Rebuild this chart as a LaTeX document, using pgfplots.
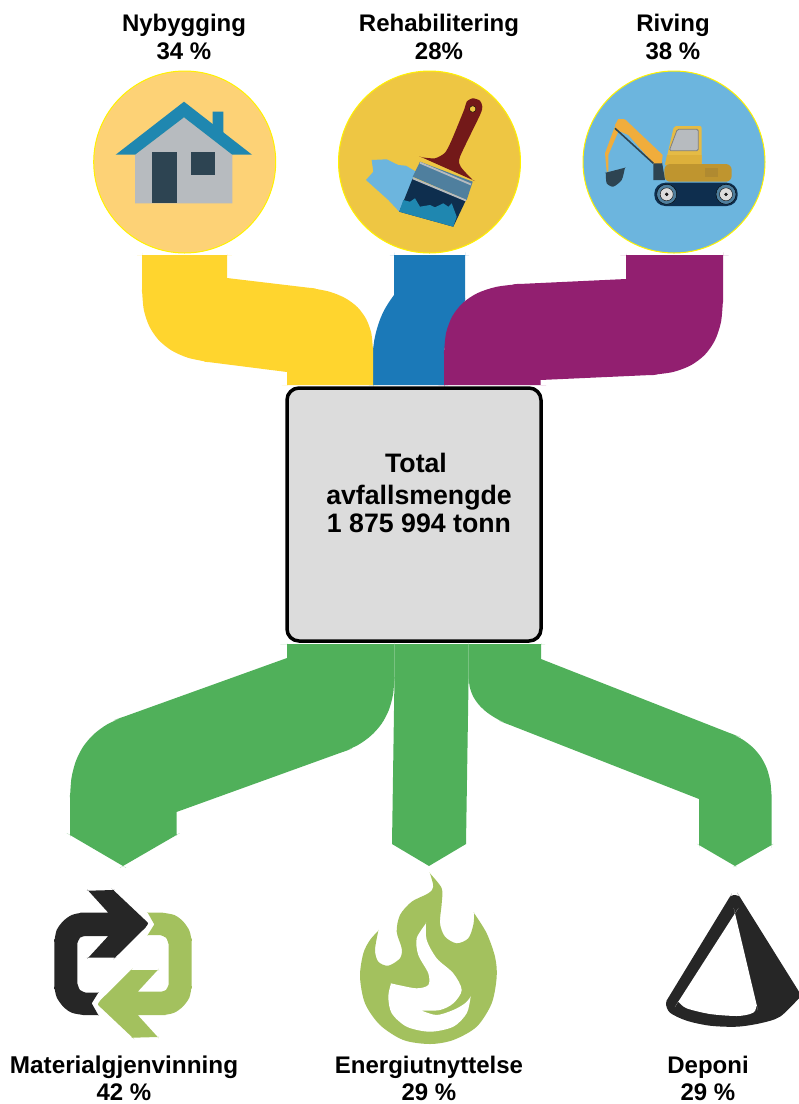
\documentclass[border=0pt]{standalone}
\usepackage{pgfplots}
\pgfplotsset{compat=1.18}
\usepackage{fontspec}
\setmainfont{Liberation Sans}
\definecolor{cYel}{HTML}{FFD52E}
\definecolor{cBlu}{HTML}{1B79B8}
\definecolor{cPur}{HTML}{921F70}
\definecolor{cGrn}{HTML}{50B05A}
\definecolor{cBox}{HTML}{DCDCDC}
\definecolor{cLime}{HTML}{A3C15E}
\definecolor{cDark}{HTML}{262626}
\definecolor{cC1}{HTML}{FDD276}
\definecolor{cC2}{HTML}{EEC643}
\definecolor{cC3}{HTML}{6CB5DE}
\definecolor{cRoof}{HTML}{1F87B0}
\definecolor{cWall}{HTML}{B7BBBF}
\definecolor{cDoor}{HTML}{2D4452}
\definecolor{cHandle}{HTML}{731919}
\definecolor{cSteel}{HTML}{4F7F9E}
\definecolor{cNavy}{HTML}{0E2E4E}
\definecolor{cArm}{HTML}{F0AD3C}
\definecolor{cCab}{HTML}{E5BB45}
\definecolor{cCabL}{HTML}{DDB03B}
\definecolor{cBody}{HTML}{BF952F}
\definecolor{cBodyD}{HTML}{B08A30}
\newcommand{\lab}[4]{\node[anchor=base,inner sep=0pt,font=\fontsize{#1}{#1}\selectfont\bfseries] at (axis cs:#2,#3) {#4};}
\begin{document}
\begin{tikzpicture}
\path[use as bounding box] (0,0) rectangle (799pt,1104pt);
\begin{axis}[at={(0,0)},anchor=south west,x=1pt,y=1pt,y dir=reverse,xmin=0,xmax=799,ymin=0,ymax=1104,hide axis,clip mode=individual]
% streams in
\addplot[fill=cBlu,draw=none,smooth] coordinates {(394,255)(394,255)(394,255)(465,255)(465,255)(465,255)(465,300)(465,300)(465,300)(459,323)(447,340)(444,352)(444,352)(444,352)(444,385)(444,385)(444,385)(373,385)(373,385)(373,385)(373,350)(373,350)(374.4,339.5)(376.7,329.7)(379.75,320.25)(383.6,311.3)(388.5,302.9)(394,295)(394,295)(394,295)(394,255)(394,255)(394,255)} --cycle;
\addplot[fill=cYel,draw=none,smooth] coordinates {(142,255)(142,255)(142,255)(227,255)(227,255)(227,255)(227,278)(227,278)(227,278)(311,288)(311,288)(329.9,291.8)(345.4,298.2)(357.5,307.2)(366.1,318.9)(371.3,333.1)(373,350)(373,350)(373,385)(373,385)(373,385)(287,385)(287,385)(287,385)(287,372)(287,372)(287,372)(208,362)(208,362)(187.8,357.7)(171.3,350.3)(158.5,339.8)(149.3,326.3)(143.8,309.7)(142,290)(142,290)(142,255)(142,255)(142,255)} --cycle;
\addplot[fill=cPur,draw=none,smooth] coordinates {(626,255)(626,255)(626,255)(723,255)(723,255)(723,255)(723,300)(723,300)(721,322)(715,340.2)(705,354.6)(691,365.2)(673,372)(651,375)(651,375)(540.5,380)(540.5,380)(540.5,380)(540.5,385)(540.5,385)(540.5,385)(444,385)(444,385)(444,385)(444,353)(444,353)(446.1,332.9)(452.3,316.3)(462.75,303)(477.3,293.2)(496.1,286.9)(519,284)(519,284)(626,279)(626,279)(626,279)(626,255)(626,255)(626,255)} --cycle;
% streams out
\addplot[fill=cGrn,draw=none,smooth] coordinates {(287,644)(287,644)(287,644)(394.5,644)(394.5,644)(394.5,644)(394.5,677)(394.5,677)(393,694.7)(388.7,710.4)(381.5,723.9)(371.4,735.3)(358.5,744.7)(342.6,752)(342.6,752)(176.5,812)(176.5,812)(176.5,812)(176.5,835)(176.5,835)(176.5,835)(123,866)(123,866)(123,866)(70,835)(70,835)(70,835)(70,797)(70,797)(71.5,777.8)(75.9,761)(83.25,746.5)(93.6,734.4)(106.8,724.6)(123,717)(123,717)(287,658)(287,658)(287,658)(287,644)(287,644)(287,644)} --cycle;
\addplot[fill=cGrn,draw=none] coordinates {(394.5,644)(468.6,644)(468.6,677)(466,844)(429,866)(392,844)(394.5,677)} --cycle;
\addplot[fill=cGrn,draw=none,smooth] coordinates {(468.6,644)(468.6,644)(468.6,644)(541,644)(541,644)(541,644)(541,659)(541,659)(541,659)(729.6,733)(729.6,733)(742.4,739.4)(752.9,747.5)(761.1,757.3)(766.9,768.7)(770.4,782)(771.6,797)(771.6,797)(771.6,845)(771.6,845)(771.6,845)(735,866)(735,866)(735,866)(699,845)(699,845)(699,845)(699,799)(699,799)(699,799)(510,725)(510,725)(497.4,719.1)(487,712.4)(479,704.9)(473.2,696.5)(469.8,687.2)(468.6,677)(468.6,677)(468.6,644)(468.6,644)(468.6,644)} --cycle;
% central box
\addplot[fill=cBox,draw=black,line width=3.5pt,rounded corners=12pt] coordinates {(287,388)(541,388)(541,641)(287,641)} --cycle;
% circles
\addplot[only marks,mark=*,mark size=91pt,mark options={fill=cC1,draw=yellow,line width=1pt}] coordinates {(184.7,162)};
\addplot[only marks,mark=*,mark size=91pt,mark options={fill=cC2,draw=yellow,line width=1pt}] coordinates {(429.5,162)};
\addplot[only marks,mark=*,mark size=91pt,mark options={fill=cC3,draw=yellow,line width=1pt}] coordinates {(674,162)};
% house
\addplot[fill=cRoof,draw=none] coordinates {(212.7,111.7)(223.3,111.7)(223.3,140)(212.7,135)} --cycle;
\addplot[fill=cWall,draw=none] coordinates {(135,154.7)(184,117.3)(232.3,154.7)(232.3,203.3)(135,203.3)} --cycle;
\addplot[fill=cRoof,draw=none] coordinates {(184,101.7)(252,154.7)(232.3,154.7)(184,117.3)(135,154.7)(115.7,154.7)} --cycle;
\addplot[fill=cDoor,draw=none] coordinates {(152.3,151.7)(176.7,151.7)(176.7,203.3)(152.3,203.3)} --cycle;
\addplot[fill=cDoor,draw=none] coordinates {(190.7,151.7)(215.3,151.7)(215.3,175)(190.7,175)} --cycle;
% brush
\addplot[fill=cC3,draw=none] coordinates {(371.7,160)(386.7,159.3)(398.3,165)(406,165.7)(416,171.7)(399.3,211.7)(388.3,200)(366,180)(373.3,171.7)} --cycle;
\addplot[fill=cHandle,draw=none,smooth,tension=0.4] coordinates {(421.7,157.3)(421.7,157.3)(421.7,157.3)(435,158.3)(445,152.7)(451.7,140)(464,110)(466.7,101.7)(472.7,98.3)(480,100.7)(482.3,106.7)(480,115)(460,156.7)(460.7,166.7)(472.7,180)(472.7,180)(472.7,180)(421.7,157.3)(421.7,157.3)(421.7,157.3)} --cycle;
\addplot[only marks,mark=*,mark size=3.2pt,mark options={fill=cC2,draw=none}] coordinates {(472.7,109)};
\addplot[fill=cSteel,draw=none] coordinates {(420,161.7)(472.7,181.7)(466.7,200)(412.7,176.7)} --cycle;
\addplot[fill=cNavy,draw=none] coordinates {(412.7,178.3)(466,200)(453.3,226.7)(399.3,211.7)} --cycle;
\addplot[draw=cWall,line width=1.8pt] coordinates {(420,162.7)(471,184.5)};
\addplot[draw=cWall,line width=1.8pt] coordinates {(412.7,178.3)(466,200.5)};
\addplot[fill=cRoof,draw=none] coordinates {(399.3,211.7)(403.3,200)(410,201.7)(415,198.3)(420,206.7)(430,205)(435,207.3)(443.3,203.3)(448.3,206.7)(451.7,203.3)(456.7,216.7)(453.3,226.7)} --cycle;
% excavator
\addplot[fill=cNavy,draw=none,rounded corners=11pt] coordinates {(654.3,182.7)(737.7,182.7)(737.7,206)(654.3,206)} --cycle;
\addplot[only marks,mark=*,mark size=10pt,mark options={fill=cSteel,draw=none}] coordinates {(666.7,194.3)(726,194.3)};
\addplot[only marks,mark=*,mark size=6.5pt,mark options={fill=cBox,draw=none}] coordinates {(666.7,194.3)(726,194.3)};
\addplot[only marks,mark=*,mark size=1.5pt,mark options={fill=cDark,draw=none}] coordinates {(666.7,194.3)(726,194.3)};
\addplot[fill=cCab,draw=none,rounded corners=2pt] coordinates {(665,165)(674,126)(701.7,126)(701.7,165)} --cycle;
\addplot[fill=cCabL,draw=none] coordinates {(667,155)(701.7,155)(701.7,165)(665,165)} --cycle;
\addplot[fill=cWall,draw=gray,line width=0.8pt,rounded corners=1.5pt] coordinates {(669.3,150.7)(677.3,129.3)(698.3,129.3)(698.3,150.7)} --cycle;
\addplot[fill=cBody,draw=none,rounded corners=6pt] coordinates {(664.3,164)(731.7,164)(731.7,181.7)(664.3,181.7)} --cycle;
\addplot[fill=cBodyD,draw=none] coordinates {(705,168.3)(717.7,168.3)(717.7,177.3)(705,177.3)} --cycle;
\addplot[fill=cDoor,draw=none] coordinates {(653.3,163.3)(661.7,160)(665,180)(653.3,180)} --cycle;
\addplot[fill=cArm,draw=none] coordinates {(615,125)(618.3,119)(625,119.3)(662.7,155)(661.7,163.3)(653.3,163.3)(628.3,135)(616.7,130)} --cycle;
\addplot[fill=cArm,draw=none] coordinates {(615,126)(605,153.3)(606.7,171.7)(608.3,171.7)(608.3,155)(618.3,131.7)} --cycle;
\addplot[draw=cDoor,line width=1.6pt] coordinates {(615,128.3)(653.3,163.3)};
\addplot[fill=cDoor,draw=none,smooth,tension=0.4] coordinates {(605.7,172.7)(605.7,172.7)(605.7,172.7)(625,167.7)(625,167.7)(625,167.7)(621.7,180)(613.3,186.7)(606.7,183.3)(605.7,172.7)(605.7,172.7)(605.7,172.7)} --cycle;
% recycle
\addplot[fill=cDark,draw=none,smooth] coordinates {(88.3,890.7)(88.3,890.7)(88.3,890.7)(113.3,890)(113.3,890)(113.3,890)(144,919)(144,919)(144,919)(148,923.5)(144,929)(144,929)(144,929)(115,957.7)(115,957.7)(115,957.7)(88.3,957.7)(88.3,957.7)(88.3,957.7)(108.3,936)(108.3,936)(108.3,936)(85,936)(85,936)(80,937.7)(77.3,943.3)(77.3,943.3)(77.3,983.3)(77.3,983.3)(80,990)(86,992.7)(86,992.7)(98.3,992.7)(98.3,992.7)(98.3,992.7)(91.7,1003.3)(91.7,1003.3)(91.7,1003.3)(98.3,1015)(98.3,1015)(98.3,1015)(83.3,1015)(83.3,1015)(71.7,1012.7)(63.3,1006.7)(56.7,997.3)(54.3,986.7)(54.3,986.7)(54.3,941.7)(54.3,941.7)(56.7,930)(63.3,921)(71.7,915)(81.7,912.7)(81.7,912.7)(108.3,912.7)(108.3,912.7)(108.3,912.7)(88.3,890.7)(88.3,890.7)(88.3,890.7)} --cycle;
\addplot[fill=cLime,draw=none,smooth] coordinates {(157.7,1037)(157.7,1037)(157.7,1037)(132.7,1037.7)(132.7,1037.7)(132.7,1037.7)(102,1008.7)(102,1008.7)(102,1008.7)(98,1004.2)(102,998.7)(102,998.7)(102,998.7)(131,970)(131,970)(131,970)(157.7,970)(157.7,970)(157.7,970)(137.7,991.7)(137.7,991.7)(137.7,991.7)(161,991.7)(161,991.7)(166,990)(168.7,984.4)(168.7,984.4)(168.7,944.4)(168.7,944.4)(166,937.7)(160,935)(160,935)(147.7,935)(147.7,935)(147.7,935)(154.3,924.4)(154.3,924.4)(154.3,924.4)(147.7,912.7)(147.7,912.7)(147.7,912.7)(162.7,912.7)(162.7,912.7)(174.3,915)(182.7,921)(189.3,930.4)(191.7,941)(191.7,941)(191.7,986)(191.7,986)(189.3,997.7)(182.7,1006.7)(174.3,1012.7)(164.3,1015)(164.3,1015)(137.7,1015)(137.7,1015)(137.7,1015)(157.7,1037)(157.7,1037)(157.7,1037)} --cycle;
% flame
\addplot[fill=cLime,draw=none,smooth] coordinates {(430,873.3)(430,873.3)(430,873.3)(441.7,888.3)(441.7,903.3)(440,923.3)(445,936.7)(456.7,943.3)(468.3,938.3)(473.3,925)(474.3,913.3)(474.3,913.3)(474.3,913.3)(486.7,933.3)(495,956.7)(496.7,976.7)(491.7,1003.3)(476.7,1026.7)(453.3,1040)(430,1044)(403.3,1040)(380,1025)(365,1003.3)(360,976.7)(363.3,953.3)(370,940)(378.3,930.7)(378.3,930.7)(378.3,930.7)(375,950)(378.3,961.7)(388.3,965.7)(400,958.3)(401.7,948.3)(396.7,931.7)(400,915)(411.7,901.7)(428.3,893.3)(433.3,886.7)(430,873.3)(430,873.3)(430,873.3)} --cycle;
\addplot[fill=white,draw=none,smooth] coordinates {(426,923.3)(426,923.3)(426,923.3)(416.7,938.3)(418.3,955)(428.3,973.3)(428.3,985)(416.7,988.3)(398.3,985)(391,983.3)(391,983.3)(388.3,996.7)(391.7,1013.3)(406.7,1026.7)(430,1031.7)(453.3,1026.7)(466.7,1013.3)(470.7,996.7)(470.7,996.7)(470.7,996.7)(465,1003.3)(453.3,1010)(436.7,1015)(421.7,1010.7)(421.7,1010.7)(421.7,1010.7)(440,1010)(453.3,1003.3)(461.7,990)(453.3,973.3)(436.7,958.3)(426.7,940)(426,923.3)(426,923.3)(426,923.3)} --cycle;
% cone
\addplot[fill=cDark,draw=none,smooth] coordinates {(728.3,899.3)(728.3,899.3)(728.3,899.3)(731,896)(735,895)(739,896.3)(740.7,898.3)(740.7,898.3)(740.7,898.3)(799,991.7)(799,991.7)(799,991.7)(799,998.3)(799,998.3)(799,998.3)(780,1016.7)(760,1023.3)(736.7,1026.7)(710,1025.7)(686.7,1020.7)(670,1012.7)(666,1003.3)(670,995)(670,995)(670,995)(728.3,899.3)(728.3,899.3)(728.3,899.3)} --cycle;
\addplot[fill=white,draw=none,smooth] coordinates {(735,913.3)(735,913.3)(735,913.3)(678.3,1001.7)(678.3,1001.7)(678.3,1001.7)(686.7,1008.3)(710,1014)(736.7,1016)(750,1014)(755,1011)(756.7,1005)(756.7,1005)(756.7,1005)(735,913.3)(735,913.3)(735,913.3)} --cycle;
% labels
\lab{24}{184}{31.7}{Nybygging}
\lab{24}{184}{59.3}{34 \%}
\lab{24}{439}{31.7}{Rehabilitering}
\lab{24}{439}{59.3}{28\%}
\lab{24}{673}{31.7}{Riving}
\lab{24}{673}{59.3}{38 \%}
\lab{26.7}{416}{472}{Total}
\lab{26.7}{419}{504}{avfallsmengde}
\lab{26.7}{419}{532}{1 875 994 tonn}
\lab{24.3}{124}{1073.3}{Materialgjenvinning}
\lab{24}{124}{1100.7}{42 \%}
\lab{24}{429}{1073.3}{Energiutnyttelse}
\lab{24}{429}{1100.7}{29 \%}
\lab{24}{708}{1073.3}{Deponi}
\lab{24}{708}{1100.7}{29 \%}
\end{axis}
\end{tikzpicture}
\end{document}
